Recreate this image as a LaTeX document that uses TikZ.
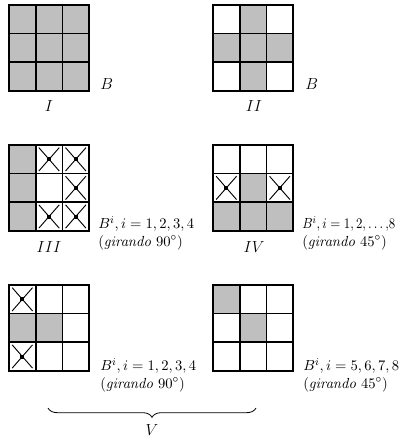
\documentclass[tikz,border=0pt]{standalone}
\usepackage{graphicx}
\usetikzlibrary{decorations.pathreplacing}

\colorlet{cinza}{black!25}

% tablero 3x3: #1 nombre, #2,#3 esquina superior izquierda
\newcommand{\tablero}[3]{%
  \foreach \k in {0,...,8} {
    \pgfmathtruncatemacro{\fila}{div(\k,3)}
    \pgfmathtruncatemacro{\col}{mod(\k,3)}
    \node[celda] (#1\k) at ({#2+(\col+0.5)*26.7}, {#3+(\fila+0.5)*28.6}) {};
  }%
}
% celda marcada con X
\newcommand{\marca}[1]{%
  \draw[cruz] ([shift={(4,3.5)}]#1.north west) -- ([shift={(-4,-3.5)}]#1.south east);
  \draw[cruz] ([shift={(-4,3.5)}]#1.north east) -- ([shift={(4,-3.5)}]#1.south west);
  \fill (#1) +(-2,-2) rectangle +(2,2);
}

\begin{document}
\begin{tikzpicture}[
  x=0.75pt, y=-0.75pt,
  font=\fontsize{11.5}{12.5}\selectfont,
  celda/.style={draw=black, line width=1.3pt, fill=white, inner sep=0pt,
    minimum width=20pt, minimum height=21.45pt},
  cruz/.style={line width=0.7pt, draw=black},
  texto/.style={anchor=west, align=left, inner sep=0pt, font=\fontsize{11}{13}\selectfont},
  rotulo/.style={inner sep=0pt},
  chave/.style={decorate, decoration={brace, mirror, amplitude=7pt}, line width=0.6pt}
]
  \useasboundingbox (0,0) rectangle (401,439);

  % Tableros (celdas numeradas 0..8 por filas)
  \tablero{I}{9}{5}
  \tablero{II}{213}{5}
  \tablero{III}{9}{145}
  \tablero{IV}{213}{145}
  \tablero{Va}{9}{285}
  \tablero{Vb}{213}{285}

  % Celdas grises
  \foreach \k in {0,...,8} \node[celda, fill=cinza] at (I\k) {};
  \foreach \k in {1,3,4,5,7} \node[celda, fill=cinza] at (II\k) {};
  \foreach \k in {0,3,6} \node[celda, fill=cinza] at (III\k) {};
  \foreach \k in {4,6,7,8} \node[celda, fill=cinza] at (IV\k) {};
  \foreach \k in {3,4} \node[celda, fill=cinza] at (Va\k) {};
  \foreach \k in {0,4} \node[celda, fill=cinza] at (Vb\k) {};

  % Celdas con X
  \foreach \k in {1,2,5,7,8} {\marca{III\k}}
  \foreach \k in {3,5} {\marca{IV\k}}
  \foreach \k in {0,6} {\marca{Va\k}}

  % Etiquetas de cada tablero
  \node[rotulo, anchor=west] (bI) at (100,84) {$B$};
  \node[rotulo, anchor=west] (bII) at (305,84) {$B$};
  \node[rotulo] (nI) at (49,106) {$I$};
  \node[rotulo] (nII) at (254,106) {$II$};
  \node[rotulo] (nIII) at (49,247) {$III$};
  \node[rotulo] (nIV) at (254,247) {$IV$};

  \node[texto] (tIII) at (98,233) {$B^i, i = 1{,}\,2{,}\,3{,}\,4$\\$(\mathit{girando}\;90^{\circ})$};
  \node[texto] (tIV) at (302,233) {\scalebox{0.88}[1]{$B^i, i = 1{,}\,2{,}\ldots{,}8$}\\$(\mathit{girando}\;45^{\circ})$};
  \node[texto] (tVa) at (100,375) {$B^i, i = 1{,}\,2{,}\,3{,}\,4$\\$(\mathit{girando}\;90^{\circ})$};
  \node[texto] (tVb) at (303,375) {$B^i, i = 5{,}\,6{,}\,7{,}\,8$\\$(\mathit{girando}\;45^{\circ})$};

  % Llave inferior
  \coordinate (chI) at (48,408);
  \coordinate (chF) at (256,408);
  \draw[chave] (chI) -- (chF);
  \node[rotulo] (nV) at (152,430) {$V$};
\end{tikzpicture}
\end{document}
